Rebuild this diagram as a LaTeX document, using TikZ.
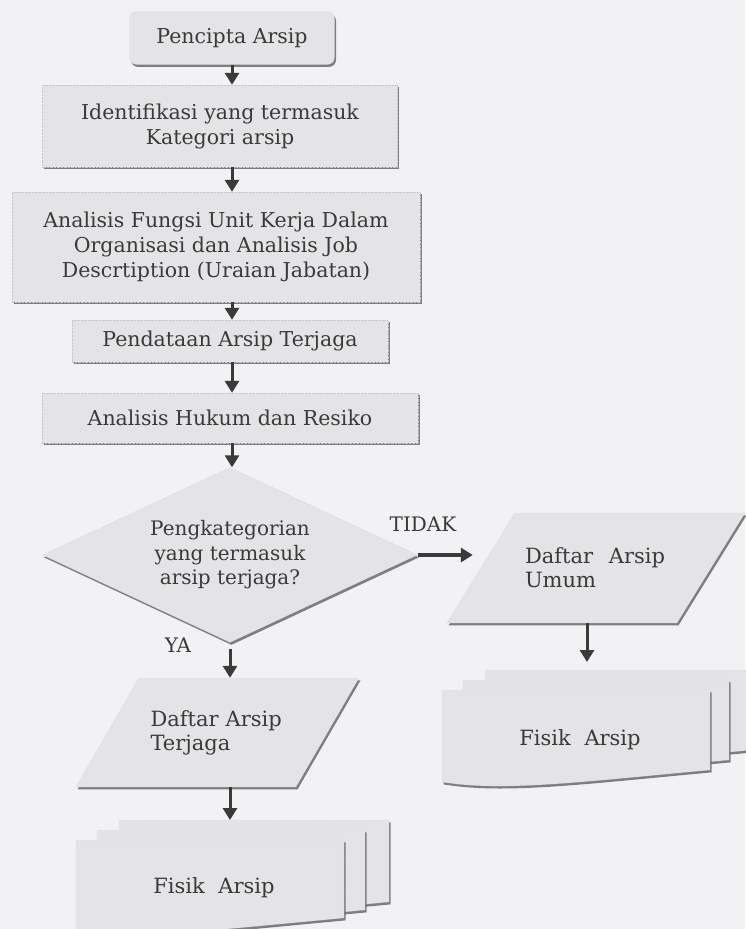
\documentclass[tikz,border=0pt]{standalone}
\usepackage{fontspec}
\setmainfont{DejaVu Serif}
\usetikzlibrary{positioning,arrows.meta,shapes.geometric,shadows,calc}

\definecolor{kertas}{HTML}{F2F1F3}
\definecolor{isiabu}{HTML}{E4E3E5}
\definecolor{garisabu}{HTML}{C8C8CA}
\definecolor{bayang}{HTML}{6A6A6A}
\definecolor{tinta}{HTML}{3A3A3A}

\tikzset{
  bayangan/.style={drop shadow={shadow xshift=1.5pt, shadow yshift=-2.4pt, fill=bayang, opacity=.85}},
  prosesbox/.style={rectangle, fill=isiabu, draw=garisabu, densely dotted, bayangan,
    align=center, inner sep=0pt, text=tinta, font=\fontsize{20.5}{25}\selectfont},
  keputusan/.style={diamond, aspect=2.14, minimum width=375pt, minimum height=175pt,
    fill=isiabu, draw=garisabu, densely dotted, bayangan, align=center, inner sep=0pt,
    text=tinta, font=\fontsize{20}{24.5}\selectfont},
  teksmiring/.style={rectangle, align=left, inner sep=0pt, text=tinta,
    font=\fontsize{21}{24}\selectfont},
  lembarstyle/.style={fill=isiabu, draw=garisabu, densely dotted, bayangan},
  panahbawah/.style={-{Triangle[length=12pt,width=14pt]}, line width=3pt, draw=tinta},
  label/.style={text=tinta, font=\fontsize{20}{22}\selectfont}
}

% satu lembar dokumen: kiri, atas, kanan, bawah-kanan
\newcommand{\lembar}[4]{%
  \path[lembarstyle] (#1,#2) -- (#3,#2) -- (#3,#4)
    .. controls ({#3-130},{#4+12}) and ({#1+60},{#4+22}) .. (#1,{#4+12}) -- cycle;}
% jajar genjang: kiri, atas, kanan, bawah, geser
\newcommand{\miring}[5]{%
  \path[lembarstyle] ({#1+#5},#2) -- (#3,#2) -- ({#3-#5},#4) -- (#1,#4) -- cycle;}

\begin{document}
\begin{tikzpicture}[x=1pt,y=-1pt]
\useasboundingbox (0,0) rectangle (745,929);
\fill[kertas] (0,0) rectangle (745,929);

% kolom utama
\node[prosesbox, rounded corners=7pt, minimum width=205pt, minimum height=53pt] (pencipta) at (232,38) {Pencipta Arsip};
\node[prosesbox, minimum width=355pt, minimum height=82pt] (identifikasi) at (220,126) {Identifikasi yang termasuk\\Kategori arsip};
\node[prosesbox, minimum width=408pt, minimum height=110pt] (analisisfungsi) at (216,247) {Analisis Fungsi Unit Kerja Dalam\\Organisasi dan Analisis Job\\Descrtiption (Uraian Jabatan)};
\node[prosesbox, minimum width=316pt, minimum height=42pt] (pendataan) at (230,341) {Pendataan Arsip Terjaga};
\node[prosesbox, minimum width=376pt, minimum height=50pt] (analisishukum) at (230,418) {Analisis Hukum dan Resiko};
\node[keputusan] (kategori) at (230,555) {Pengkategorian\\yang termasuk\\arsip terjaga?};

% cabang TIDAK
\miring{447}{513}{745}{623}{68}
\node[teksmiring, minimum width=298pt, minimum height=110pt, text width=142pt] (daftarumum) at (596,568) {Daftar\hspace{0.75em}Arsip\\Umum};
\lembar{485}{670}{752}{750}
\lembar{463}{680}{729}{760}
\lembar{442}{690}{710}{770}
\node[label, font=\fontsize{21}{24}\selectfont] (fisikumum) at (580,740) {Fisik\hspace{0.65em}Arsip};
\coordinate (tumpukanumum) at (587,662);

% cabang YA
\miring{76}{678}{359}{787}{63}
\node[teksmiring, minimum width=283pt, minimum height=109pt, text width=134pt] (daftarterjaga) at (217.5,732.5) {Daftar Arsip\\Terjaga};
\lembar{119}{820}{389}{902}
\lembar{97}{830}{365}{910}
\lembar{76}{840}{344}{918}
\node[label, font=\fontsize{21}{24}\selectfont] (fisikterjaga) at (214,888) {Fisik\hspace{0.65em}Arsip};
\coordinate (tumpukanterjaga) at (230,820);

\node[label] (labeltidak) at (423,524) {TIDAK};
\node[label] (labelya) at (178,645) {YA};

% panah
\draw[panahbawah] (pencipta.south) -- (pencipta.south |- identifikasi.north);
\draw[panahbawah] (identifikasi.south -| pencipta.south) -- (pencipta.south |- analisisfungsi.north);
\draw[panahbawah] (analisisfungsi.south -| pencipta.south) -- (pencipta.south |- pendataan.north);
\draw[panahbawah] (pendataan.south -| pencipta.south) -- (pencipta.south |- analisishukum.north);
\draw[panahbawah] (analisishukum.south -| pencipta.south) -- (pencipta.south |- kategori.north);
\draw[panahbawah, line width=3.4pt] (kategori.east) -- ([xshift=26pt]kategori.east -| daftarumum.west);
\draw[panahbawah] ([yshift=-6pt]kategori.south) -- (kategori.south |- daftarterjaga.north);
\draw[panahbawah] (daftarumum.south -| tumpukanumum) -- (tumpukanumum);
\draw[panahbawah] (daftarterjaga.south -| tumpukanterjaga) -- (tumpukanterjaga);
\end{tikzpicture}
\end{document}
